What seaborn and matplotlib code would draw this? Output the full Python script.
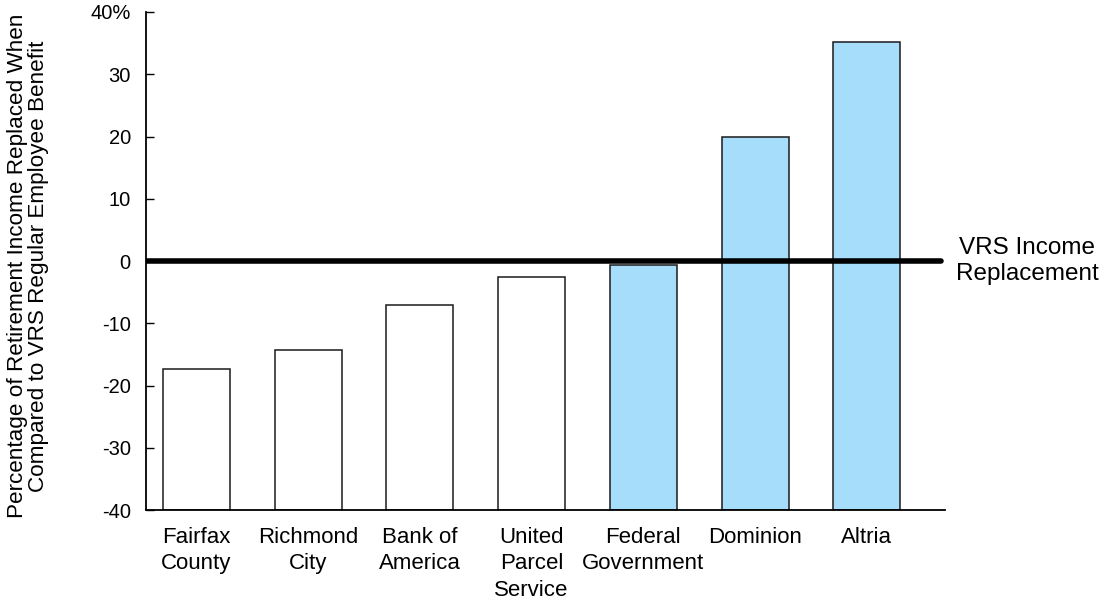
import pandas as pd
import matplotlib.pyplot as plt
import seaborn as sns

# Chart data
employers = [
    "Fairfax\nCounty",
    "Richmond\nCity",
    "Bank of\nAmerica",
    "United\nParcel\nService",
    "Federal\nGovernment",
    "Dominion",
    "Altria",
]
pct_vs_vrs = [-17.3, -14.3, -7.0, -2.5, -0.6, 20.0, 35.2]
bar_colors = ["white", "white", "white", "white", "#A5DDFB", "#A5DDFB", "#A5DDFB"]
y_ticks = [-40, -30, -20, -10, 0, 10, 20, 30, 40]
y_tick_labels = ["-40", "-30", "-20", "-10", "0", "10", "20", "30", "40%"]
y_floor = -40


def main():
    sns.set_style("white")
    plt.rcParams["font.family"] = ["Liberation Sans", "DejaVu Sans"]
    plt.rcParams["text.color"] = "black"
    plt.rcParams["axes.labelcolor"] = "black"
    plt.rcParams["xtick.color"] = "black"
    plt.rcParams["ytick.color"] = "black"

    df = pd.DataFrame({"employer": employers, "value": pct_vs_vrs})
    # bars rise from the bottom of the axis, not from zero
    df["height"] = df["value"] - y_floor

    fig = plt.figure(figsize=(11.14, 6.03), dpi=100)
    ax = fig.add_axes([0.1311, 0.1542, 0.7172, 0.8259])

    sns.barplot(
        data=df,
        x="employer",
        y="height",
        hue="employer",
        palette=bar_colors,
        legend=False,
        width=0.6,
        bottom=y_floor,
        edgecolor="#1a1a1a",
        linewidth=1.1,
        saturation=1,
        ax=ax,
    )

    # VRS reference line
    ax.axhline(0, xmin=0, xmax=0.995, color="black", linewidth=4, zorder=5)
    ax.text(
        1.1027, 0, "VRS Income\nReplacement",
        transform=ax.get_yaxis_transform(),
        ha="center", va="center", fontsize=17.5, linespacing=1.25,
    )

    ax.set_ylim(-40, 40)
    ax.set_xlim(-0.45, 6.7)
    ax.set_yticks(y_ticks)
    ax.set_yticklabels(y_tick_labels)
    ax.set_xticks(range(len(employers)))
    ax.set_xticklabels(employers, linespacing=1.35)
    ax.set_xticks([-0.37] + [i + 0.5 for i in range(len(employers) - 1)] + [6.7],
                  minor=True)

    ax.tick_params(axis="x", which="major", length=0, pad=12, labelsize=16)
    ax.tick_params(axis="x", which="minor", length=5, width=1, direction="out")
    ax.tick_params(axis="y", direction="in", length=6, width=1, pad=11,
                   labelsize=14.5, left=True)

    for side in ["top", "right"]:
        ax.spines[side].set_visible(False)
    for side in ["left", "bottom"]:
        ax.spines[side].set_color("black")
        ax.spines[side].set_linewidth(1.3)

    ax.set_xlabel("")
    ax.set_ylabel(
        "Percentage of Retirement Income Replaced When\n"
        "Compared to VRS Regular Employee Benefit",
        fontsize=16.2, linespacing=1.0,
    )
    ax.yaxis.set_label_coords(-0.121, 0.49)

    fig.savefig("out.png", dpi=100)


if __name__ == "__main__":
    main()
